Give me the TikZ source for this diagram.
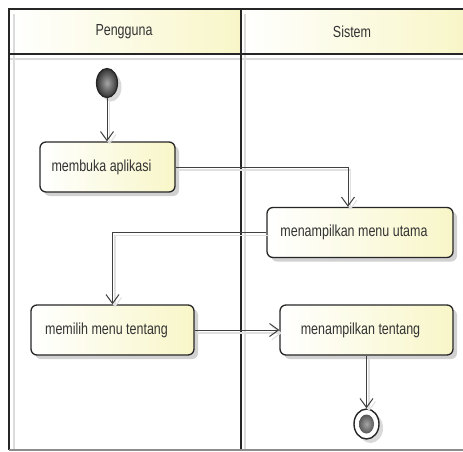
\documentclass[tikz,border=0pt]{standalone}
\usepackage{fontspec}
\setmainfont{Liberation Sans}
\newfontfamily\umlfont[FakeStretch=0.78]{Liberation Sans}
\usetikzlibrary{arrows.meta,shapes.geometric,shadows}
\definecolor{cream}{RGB}{248,246,200}
\definecolor{ink}{RGB}{64,64,64}
\tikzset{
  act/.style       = {rectangle, rounded corners=6pt, draw=black!85, line width=1.3pt,
                      left color=white, right color=cream,
                      minimum width=#1, minimum height=50pt, inner sep=0pt,
                      font=\umlfont\fontsize{16}{19}\selectfont, text=black!80,
                      drop shadow={shadow xshift=4pt, shadow yshift=-4pt,
                                   fill=black!18, opacity=1},
                      execute at begin node={\hspace*{-12pt}}},
  initnode/.style  = {ellipse, draw=black!85, line width=1.2pt,
                      minimum width=21pt, minimum height=29pt, inner sep=0pt,
                      inner color=black!35, outer color=black!80,
                      drop shadow={shadow xshift=4pt, shadow yshift=-4pt,
                                   fill=black!15, opacity=1}},
  finalnode/.style = {ellipse, draw=black!85, line width=1.4pt, fill=white,
                      minimum width=25pt, minimum height=30pt, inner sep=0pt,
                      path picture={\shade[inner color=black!35, outer color=black!85]
                        (path picture bounding box.center) ellipse [x radius=7.5pt, y radius=9.5pt];},
                      drop shadow={shadow xshift=4pt, shadow yshift=-4pt,
                                   fill=black!15, opacity=1}},
  flow/.style      = {draw=ink, line width=1pt,
                      -{Straight Barb[length=9pt, width=13pt, line width=1pt]},
                      preaction={draw=black!12, line width=1.5pt,
                                 transform canvas={shift={(2.5pt,-3pt)}}}},
  laneline/.style  = {draw=black!85, line width=2pt},
  laneshade/.style = {draw=black!14, line width=2pt},
  lanelbl/.style   = {font=\umlfont\fontsize{16}{19}\selectfont, text=black!80, inner sep=1pt},
}

\begin{document}
\begin{tikzpicture}[x=1pt, y=-1pt]
  \useasboundingbox (0,0) rectangle (463,451);
  % swimlanes
  \shade[left color=white, right color=cream] (9,9) rectangle (241,54);
  \shade[left color=white, right color=cream] (241,9) rectangle (463,54);
  \draw[laneshade] (14,14) -- (14,450) (9,59) -- (463,59) (245,14) -- (245,450);
  \draw[laneline] (463,9) -- (9,9) -- (9,450) (9,54) -- (463,54) (241,9) -- (241,450);
  \draw[black!45, line width=1.5pt] (9,450) -- (463,450);
  \node[lanelbl] (hpengguna) at (124,32) {Pengguna};
  \node[lanelbl] (hsistem)   at (352,32) {Sistem};

  % activities
  \node[initnode]  (init)      at (107,83) {};
  \node[act=135pt] (membuka)   at (107.5,167) {membuka aplikasi};
  \node[act=186pt] (menuutama) at (360,232.5) {menampilkan menu utama};
  \node[act=163pt] (memilih)   at (112.5,330) {memilih menu tentang};
  \node[act=173pt] (tentang)   at (366.5,330) {menampilkan tentang};
  \node[finalnode] (final)     at (366.5,424) {};

  \draw[flow] (init) -- (init |- membuka.north);
  \draw[flow] (membuka.east) -| ([xshift=-12pt]menuutama.north);
  \draw[flow] (menuutama.west) -| (memilih.north);
  \draw[flow] (memilih) -- (tentang);
  \draw[flow] (tentang) -- (final);
\end{tikzpicture}
\end{document}
